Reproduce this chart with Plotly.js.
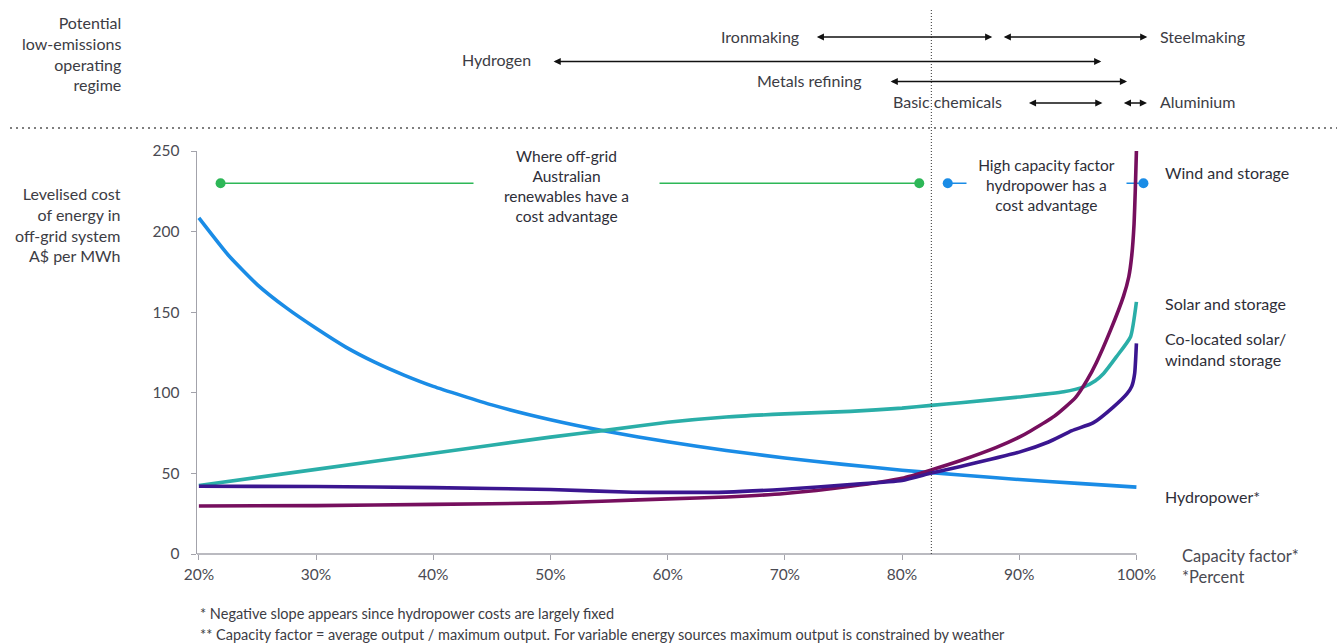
<!DOCTYPE html>
<html>
<head>
<meta charset="utf-8">
<script src="https://cdn.plot.ly/plotly-3.0.1.min.js"></script>
<style>
  html, body { margin: 0; padding: 0; background: #ffffff; }
  #chart { width: 1337px; height: 644px; }
</style>
</head>
<body>
<div id="chart"></div>
<script>
// ---- Levelised cost of energy (A$ per MWh) against capacity factor (%) ----
const hydroX = [20, 22.5, 25, 27.5, 30, 32.5, 35, 37.5, 40, 45, 50, 55, 60, 65, 70, 75, 80, 85, 90, 95, 100];
const hydroY = [208.5, 185.5, 167, 152.5, 140, 128.5, 119, 111, 104, 92.5, 83.3, 75.8, 69.6, 64.2, 59.6, 55.6, 52, 49, 46.2, 43.8, 41.5];

const solarX = [20, 30, 40, 50, 55, 60, 65, 70, 75.6, 80, 82.5, 85, 90, 93.8, 95.5, 96.5, 97.2, 98.3, 99.5, 100];
const solarY = [42.5, 52.5, 62.5, 72.5, 77, 81.7, 85, 86.9, 88.5, 90.5, 92.2, 93.8, 97.4, 100.6, 103.7, 107.5, 112, 122.4, 134.8, 156.4];

const windX = [20, 30, 40, 50, 55, 60, 65, 70, 75.6, 80, 82.5, 85, 88, 90, 91, 93, 94.8, 95.8, 96.6, 97.8, 98.9, 99.35, 99.6, 99.8, 99.9, 100];
const windY = [29.8, 30, 30.8, 31.7, 32.9, 34.2, 35.4, 37.5, 42, 47, 52.2, 58, 66, 72.5, 76.5, 85.5, 97, 108, 119, 139, 160, 172, 185, 205, 225, 250];

const hybridX = [20, 30, 40, 50, 57, 60, 65, 70, 75.6, 80, 82.5, 85, 90, 92.5, 94.5, 96.3, 98, 99.2, 99.6, 99.85, 100];
const hybridY = [42, 41.9, 41.2, 40, 38.3, 38.2, 38.4, 40.2, 43.1, 45.6, 50.2, 54.3, 63.2, 69.5, 76.5, 81.3, 91, 99.5, 104, 112, 130.7];

const seriesNames = ['Hydropower*', 'Solar and storage', 'Wind and storage', 'Co-located solar/<br>windand storage'];

// Axis ticks
const xTickVals = [20, 30, 40, 50, 60, 70, 80, 90, 100];
const xTickText = ['20%', '30%', '40%', '50%', '60%', '70%', '80%', '90%', '100%'];
const yTickVals = [0, 50, 100, 150, 200, 250];

// Capacity-factor ranges of potential low-emissions operating regimes (%)
const regimeNames = ['Ironmaking', 'Steelmaking', 'Hydrogen', 'Metals refining', 'Basic chemicals', 'Aluminium'];
const regimeStart = [72.6, 88.55, 50.14, 78.9, 90.7, 98.8];
const regimeEnd   = [87.7, 100.93, 97.0, 99.2, 97.1, 100.9];

// Cost-advantage brackets (capacity factor %)
const bracketText = ['Where off-grid<br>Australian<br>renewables have a<br>cost advantage',
                     'High capacity factor<br>hydropower has a<br>cost advantage'];
const bracketFrom = [21.85, 83.9];
const bracketTo   = [81.47, 100.6];
const bracketLevel = 230;

// Capacity factor where the hydropower curve crosses the wind / hybrid curves
const crossover = 82.5;

// ---- Layout helpers (pixel positions inside the 1337x644 canvas) ----
const X_RANGE = [19.84, 101.5];
const M = { l: 197, r: 183, t: 151, b: 90 };
const W = 1337, H = 644;
const plotW = W - M.l - M.r, plotH = H - M.t - M.b;
const paperX = p => (p - M.l) / plotW;
const paperY = p => (H - M.b - p) / plotH;
const pxToCf = p => X_RANGE[0] + (p - M.l) / plotW * (X_RANGE[1] - X_RANGE[0]);

const FONT = 'Lato, "Open Sans", sans-serif';
const TXT = '#2e2e38';
const SOFT = '#3c3c44';

const colors = ['#1a8ce6', '#2aaea8', '#760f5e', '#3b1690'];
const bracketColors = ['#2db757', '#1a8ce6'];

const xs = [hydroX, solarX, windX, hybridX];
const ys = [hydroY, solarY, windY, hybridY];

const traces = [];

// Bracket lines with end dots
bracketText.forEach((t, i) => {
  traces.push({
    x: [bracketFrom[i], bracketTo[i]], y: [bracketLevel, bracketLevel],
    type: 'scatter', mode: 'lines+markers', cliponaxis: false,
    line: { color: bracketColors[i], width: 1.5 },
    marker: { color: bracketColors[i], size: 10 },
    hoverinfo: 'skip'
  });
});

xs.forEach((x, i) => traces.push({
  x: x, y: ys[i], type: 'scatter', mode: 'lines', name: seriesNames[i],
  line: { color: colors[i], width: 3.6, shape: 'spline', smoothing: 0.5 },
  hoverinfo: 'skip'
}));

// Row placement of regime arrows (pixel y), label side and label gap (px)
const regimeRowPx = [37, 37, 61.5, 81.5, 103, 103];
const regimeLabelSide = ['left', 'right', 'left', 'left', 'left', 'right'];
const regimeLabelGap = [14, 11, 19, 25, 23, 11];
const regimeLabelRowPx = [36.5, 36.5, 59.5, 80.5, 101.5, 101.5];

const annotations = [];

regimeNames.forEach((name, i) => {
  annotations.push({
    x: regimeEnd[i], y: paperY(regimeRowPx[i]), xref: 'x', yref: 'paper',
    ax: regimeStart[i], ay: 0, axref: 'x', ayref: 'pixel',
    text: '', showarrow: true, arrowside: 'end+start',
    arrowhead: 2, startarrowhead: 2, arrowsize: 1.1, startarrowsize: 1.1,
    arrowwidth: 1.3, arrowcolor: '#111111', standoff: 0, startstandoff: 0
  });
  const left = regimeLabelSide[i] === 'left';
  annotations.push({
    x: left ? regimeStart[i] : regimeEnd[i], y: paperY(regimeLabelRowPx[i]),
    xref: 'x', yref: 'paper', xanchor: left ? 'right' : 'left', yanchor: 'middle',
    xshift: left ? -regimeLabelGap[i] : regimeLabelGap[i],
    text: name, showarrow: false, font: { family: FONT, size: 16, color: SOFT }
  });
});

// Bracket captions (white box hides the bracket line behind the text)
const captionGapPx = [[474, 659], [967, 1126]];
const captionShift = [-3, -1.5];
bracketText.forEach((t, i) => {
  const g = captionGapPx[i];
  annotations.push({
    x: pxToCf((g[0] + g[1]) / 2), y: bracketLevel, xref: 'x', yref: 'y',
    yanchor: 'middle', xanchor: 'center', yshift: captionShift[i],
    text: t, showarrow: false, align: 'center', width: g[1] - g[0] - 2,
    bgcolor: '#ffffff', font: { family: FONT, size: 15.5, color: TXT }
  });
});

// Series labels on the right
const labelRowPx = [496.7, 303.3, 172.7, 348.5];
seriesNames.forEach((n, i) => {
  annotations.push({
    x: paperX(1163), y: paperY(labelRowPx[i]), xref: 'paper', yref: 'paper',
    xanchor: 'left', yanchor: 'middle', align: 'left', showarrow: false,
    text: n, font: { family: FONT, size: 16, color: TXT }
  });
});

// Axis captions and notes
annotations.push(
  { x: paperX(123), y: paperY(53.5), xref: 'paper', yref: 'paper', xanchor: 'right', yanchor: 'middle',
    align: 'right', showarrow: false, text: 'Potential<br>low-emissions<br>operating<br>regime',
    font: { family: FONT, size: 16, color: SOFT } },
  { x: paperX(123), y: paperY(224.5), xref: 'paper', yref: 'paper', xanchor: 'right', yanchor: 'middle',
    align: 'right', showarrow: false, text: 'Levelised cost<br>of energy in<br>off-grid system<br>A$ per MWh',
    font: { family: FONT, size: 16, color: SOFT } },
  { x: paperX(1180), y: paperY(566.3), xref: 'paper', yref: 'paper', xanchor: 'left', yanchor: 'middle',
    align: 'left', showarrow: false, text: 'Capacity factor*<br>*Percent',
    font: { family: FONT, size: 16.5, color: '#4a4a52' } },
  { x: paperX(198), y: paperY(613), xref: 'paper', yref: 'paper', xanchor: 'left', yanchor: 'middle',
    align: 'left', showarrow: false, text: '* Negative slope appears since hydropower costs are largely fixed',
    font: { family: FONT, size: 14.5, color: SOFT } },
  { x: paperX(198), y: paperY(634), xref: 'paper', yref: 'paper', xanchor: 'left', yanchor: 'middle',
    align: 'left', showarrow: false,
    text: '** Capacity factor = average output / maximum output. For variable energy sources maximum output is constrained by weather',
    font: { family: FONT, size: 14.5, color: SOFT } }
);

const AXIS_GREY = '#a3a3ab';
const shapes = [
  // x-axis baseline, ending at a capacity factor of 100%
  { type: 'line', xref: 'x', yref: 'paper', x0: X_RANGE[0], x1: 100, y0: 0, y1: 0,
    line: { color: AXIS_GREY, width: 1.5 } },
  // separator between the regime panel and the cost chart
  { type: 'line', xref: 'paper', yref: 'paper', x0: paperX(10), x1: paperX(1337), y0: paperY(128), y1: paperY(128),
    line: { color: '#555555', width: 1.6, dash: '2px,4px' } },
  // crossover marker
  { type: 'line', xref: 'x', yref: 'paper', x0: crossover, x1: crossover, y0: 0, y1: paperY(8),
    line: { color: '#333333', width: 1, dash: '1px,2px' } }
];

const layout = {
  width: W, height: H,
  margin: { l: M.l, r: M.r, t: M.t, b: M.b, pad: 0 },
  paper_bgcolor: '#ffffff', plot_bgcolor: '#ffffff',
  showlegend: false,
  font: { family: FONT, size: 15, color: '#4a4a52' },
  xaxis: {
    range: X_RANGE, tickvals: xTickVals, ticktext: xTickText,
    showgrid: false, zeroline: false, showline: false,
    ticks: 'outside', ticklen: 5, tickcolor: AXIS_GREY, tickwidth: 1,
    tickfont: { family: FONT, size: 15.5, color: '#4a4a52' }, ticklabelstandoff: 1
  },
  yaxis: {
    range: [0, 250], tickvals: yTickVals,
    showgrid: false, zeroline: false, showline: true, linecolor: AXIS_GREY, linewidth: 1.5,
    ticks: 'outside', ticklen: 5, tickcolor: AXIS_GREY, tickwidth: 1,
    tickfont: { family: FONT, size: 15.5, color: '#4a4a52' }, ticklabelstandoff: 8
  },
  annotations: annotations,
  shapes: shapes
};

Plotly.newPlot('chart', traces, layout, { displayModeBar: false, staticPlot: true });
</script>
</body>
</html>
